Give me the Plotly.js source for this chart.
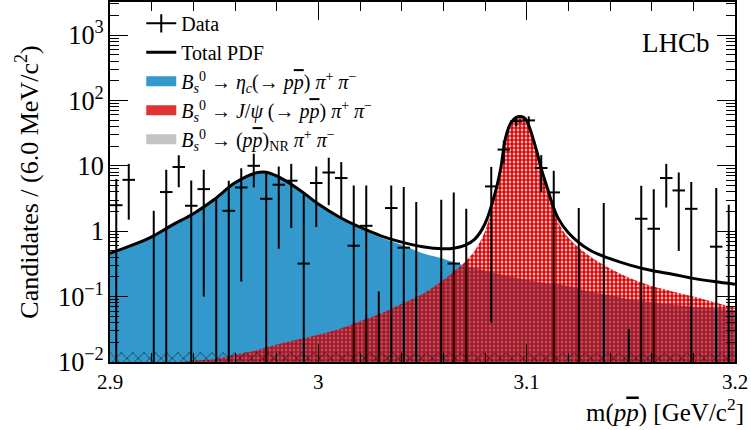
<!DOCTYPE html>
<html>
<head>
<meta charset="utf-8">
<script src="https://cdn.plot.ly/plotly-3.0.1.min.js"></script>
<style>html,body{margin:0;padding:0;background:#fff;}</style>
</head>
<body>
<div id="chart" style="width:751px;height:430px;"></div>
<script>
// ---- Data points (bin centres in GeV/c^2, weighted candidates, symmetric errors) ----
const dataMass = [2.903, 2.909, 2.921, 2.927, 2.933, 2.939, 2.945, 2.951, 2.957, 2.963,
                  2.969, 2.975, 2.981, 2.987, 2.993, 2.999, 3.005, 3.011, 3.017, 3.023,
                  3.029, 3.035, 3.041, 3.047, 3.059, 3.065, 3.071, 3.083, 3.089, 3.095,
                  3.101, 3.107, 3.113, 3.125, 3.137, 3.149, 3.155, 3.161, 3.167, 3.173,
                  3.179, 3.191, 3.197];
const dataCounts = [2.5, 6.1, 0, 3.97, 9.6, 2.45, 4.4, 0, 2.05, 4.67,
                    10.0, 3.13, 5.14, 5.92, 0.32, 5.46, 7.9, 6.5, 0.60, 1.21,
                    0, 2.26, 0.56, 0, 0, 0.32, 0, 4.84, 17.7, 47.9,
                    49.5, 9.25, 3.92, 0, 0, 0, 1.55, 1.09, 6.5, 4.2,
                    2.2, 0.58, 0];
const dataErrors = [3.8, 4.6, 2.05, 4.7, 4.9, 3.5, 4.3, 3.1, 3.85, 4.5,
                    5.3, 5.1, 4.6, 4.8, 3.3, 4.3, 5.4, 4.9, 4.4, 3.8,
                    0.12, 2.74, 4.2, 2.79, 3.04, 3.6, 2.2, 4.8, 6.7, 7.5,
                    7.5, 5.3, 4.5, 2.26, 2.69, 0.032, 3.4, 3.3, 4.2, 3.7,
                    3.45, 4.0, 2.53];
const binHalfWidth = 0.003;

// ---- Fit components ----
const totalMass = [2.900, 2.910, 2.920, 2.930, 2.940, 2.950, 2.960, 2.970, 2.975, 2.980,
                   2.990, 3.000, 3.010, 3.020, 3.030, 3.040, 3.050, 3.060, 3.065, 3.070,
                   3.075, 3.080, 3.085, 3.0875, 3.090, 3.0925, 3.095, 3.0966, 3.0985, 3.100,
                   3.1025, 3.105, 3.1075, 3.110, 3.1125, 3.115, 3.120, 3.130, 3.140, 3.150,
                   3.160, 3.170, 3.180, 3.190, 3.200];
const totalPdf = [0.46, 0.60, 0.82, 1.25, 1.85, 3.05, 5.5, 7.8, 8.0, 7.0,
                  4.5, 2.6, 1.65, 1.15, 0.85, 0.68, 0.58, 0.54, 0.55, 0.60,
                  0.75, 1.3, 4.0, 9.0, 28, 46, 55, 57, 55, 49,
                  30, 16, 8.0, 4.5, 2.5, 1.6, 0.95, 0.52, 0.38, 0.30,
                  0.25, 0.22, 0.19, 0.17, 0.155];

const etacMass = [2.900, 2.910, 2.920, 2.930, 2.940, 2.950, 2.960, 2.970, 2.975, 2.980,
                  2.990, 3.000, 3.010, 3.020, 3.030, 3.040, 3.050, 3.060, 3.070, 3.080,
                  3.090, 3.100, 3.110, 3.120, 3.130, 3.140, 3.150, 3.160, 3.170, 3.180,
                  3.190, 3.200];
const etacPdf = [0.45, 0.58, 0.80, 1.22, 1.82, 3.0, 5.4, 7.7, 7.8, 6.8,
                 4.4, 2.55, 1.62, 1.1, 0.80, 0.62, 0.46, 0.38, 0.30, 0.25,
                 0.21, 0.18, 0.16, 0.145, 0.12, 0.105, 0.09, 0.082, 0.075, 0.07,
                 0.066, 0.062];

const jpsiMass = [2.900, 2.920, 2.940, 2.950, 2.960, 2.970, 2.980, 2.990, 3.000, 3.010,
                  3.020, 3.030, 3.040, 3.050, 3.060, 3.065, 3.070, 3.075, 3.080, 3.085,
                  3.0875, 3.090, 3.0925, 3.095, 3.0966, 3.0985, 3.100, 3.1025, 3.105, 3.1075,
                  3.110, 3.1125, 3.115, 3.120, 3.130, 3.140, 3.150, 3.160, 3.170, 3.180,
                  3.190, 3.200];
const jpsiPdf = [0.0065, 0.0085, 0.0105, 0.011, 0.013, 0.015, 0.0185, 0.022, 0.026, 0.032,
                 0.042, 0.055, 0.078, 0.11, 0.18, 0.24, 0.33, 0.50, 1.0, 3.6,
                 8.5, 27, 45, 53, 55, 53, 47, 29, 15, 7.5,
                 4.2, 2.3, 1.4, 0.80, 0.42, 0.27, 0.19, 0.145, 0.12, 0.10,
                 0.082, 0.068];

const nrMass = [2.900, 2.950, 3.000, 3.050, 3.100, 3.150, 3.200];
const nrPdf = [0.0141, 0.0140, 0.0139, 0.0139, 0.0138, 0.0137, 0.0136];

const legendLabels = [
  'Data',
  'Total PDF',
  '<i>B</i><sub><i>s</i></sub><sup>0</sup> → <i>η</i><sub><i>c</i></sub>(→ <i>p</i><span style="text-decoration:overline"><i>p</i></span>) <i>π</i><sup>+</sup> <i>π</i><sup>−</sup>',
  '<i>B</i><sub><i>s</i></sub><sup>0</sup> → <i>J</i>/<i>ψ</i> (→ <i>p</i><span style="text-decoration:overline"><i>p</i></span>) <i>π</i><sup>+</sup> <i>π</i><sup>−</sup>',
  '<i>B</i><sub><i>s</i></sub><sup>0</sup> → (<i>p</i><span style="text-decoration:overline"><i>p</i></span>)<sub>NR</sub> <i>π</i><sup>+</sup> <i>π</i><sup>−</sup>'
];

const BLUE = '#3399cc';
const RED = '#dd0000';
const FONT = 'Liberation Serif, Times New Roman, serif';

// values at or below zero sit below the log range; only their error bar shows
const yFloor = 1e-4;
const dataY = dataCounts.map(v => (v > 0 ? v : yFloor));

const traces = [
  { x: etacMass, y: etacPdf, type: 'scatter', mode: 'lines', line: {width: 0, shape: 'spline', color: BLUE},
    fill: 'tozeroy', fillcolor: BLUE, showlegend: false, hoverinfo: 'skip' },
  { x: jpsiMass, y: jpsiPdf, type: 'scatter', mode: 'lines', line: {width: 0, shape: 'spline', color: RED},
    fill: 'tozeroy', fillcolor: RED,
    fillpattern: {shape: '.', fgcolor: RED, bgcolor: 'rgba(0,0,0,0)', size: 4, solidity: 0.7},
    showlegend: false, hoverinfo: 'skip' },
  { x: nrMass, y: nrPdf, type: 'scatter', mode: 'lines', line: {width: 0, color: 'black'},
    fill: 'tozeroy', fillcolor: 'black',
    fillpattern: {shape: 'x', fgcolor: 'black', bgcolor: 'rgba(0,0,0,0)', size: 8, solidity: 0.12},
    showlegend: false, hoverinfo: 'skip' },
  { x: totalMass, y: totalPdf, type: 'scatter', mode: 'lines', line: {width: 3, color: 'black', shape: 'spline'},
    showlegend: false },
  { x: dataMass, y: dataY, type: 'scatter', mode: 'markers', marker: {size: 1, color: 'black'},
    error_y: {type: 'data', array: dataErrors, symmetric: true, color: 'black', thickness: 2, width: 0},
    error_x: {type: 'constant', value: binHalfWidth, color: 'black', thickness: 2, width: 0},
    showlegend: false },
  // legend entries
  { x: [null], y: [null], type: 'scatter', mode: 'lines+markers', name: legendLabels[0], legendgroup: 'a',
    line: {color: 'black', width: 2}, marker: {symbol: 'line-ns', size: 13, line: {width: 2, color: 'black'}} },
  { x: [null], y: [null], type: 'scatter', mode: 'lines', name: legendLabels[1], legendgroup: 'b',
    line: {color: 'black', width: 3} },
  { x: [null], y: [null], type: 'scatter', mode: 'lines', name: legendLabels[2], legendgroup: 'c',
    line: {color: BLUE, width: 15} },
  { x: [null], y: [null], type: 'scatter', mode: 'lines', name: legendLabels[3], legendgroup: 'd',
    line: {color: '#e03434', width: 15} },
  { x: [null], y: [null], type: 'scatter', mode: 'lines', name: legendLabels[4], legendgroup: 'e',
    line: {color: '#c4c4c4', width: 15} }
];

const layout = {
  width: 751, height: 430,
  margin: {l: 110, r: 16, t: 2, b: 68},
  paper_bgcolor: 'white', plot_bgcolor: 'white',
  font: {family: FONT, color: 'black', size: 21},
  showlegend: true,
  legend: {x: 0.05, y: 0.995, xanchor: 'left', yanchor: 'top', bgcolor: 'rgba(0,0,0,0)',
           font: {family: FONT, size: 20, color: 'black'}, tracegroupgap: 0, itemwidth: 30},
  xaxis: {range: [2.9, 3.2], dtick: 0.1, tick0: 2.9, ticks: 'inside', ticklen: 18, tickwidth: 1,
          tickcolor: 'black', mirror: 'allticks', showline: true, linewidth: 2, linecolor: 'black',
          showgrid: false, zeroline: false,
          minor: {ticks: 'inside', ticklen: 9, dtick: 0.02, tickcolor: 'black', showgrid: false}},
  yaxis: {type: 'log', range: [-2, 3.505], dtick: 1, exponentformat: 'power', ticks: 'inside',
          ticklen: 18, tickwidth: 1, tickcolor: 'black', mirror: 'allticks', showline: true,
          linewidth: 2, linecolor: 'black', showgrid: false, zeroline: false,
          minor: {ticks: 'inside', ticklen: 9, dtick: 'D1', tickcolor: 'black', showgrid: false},
          title: {text: 'Candidates / (6.0 MeV/c<sup>2</sup>)', font: {family: FONT, size: 26}, standoff: 12}},
  annotations: [
    {text: 'LHCb', xref: 'paper', yref: 'paper', x: 0.905, y: 0.885, xanchor: 'center', yanchor: 'middle',
     showarrow: false, font: {family: FONT, size: 27}},
    {text: 'm(<i>p</i><span style="text-decoration:overline"><i>p</i></span>) [GeV/c<sup>2</sup>]',
     xref: 'paper', yref: 'paper', x: 1.018, y: -0.135, xanchor: 'right', yanchor: 'middle',
     showarrow: false, font: {family: FONT, size: 25}}
  ]
};

Plotly.newPlot('chart', traces, layout, {staticPlot: true, displayModeBar: false});
</script>
</body>
</html>
